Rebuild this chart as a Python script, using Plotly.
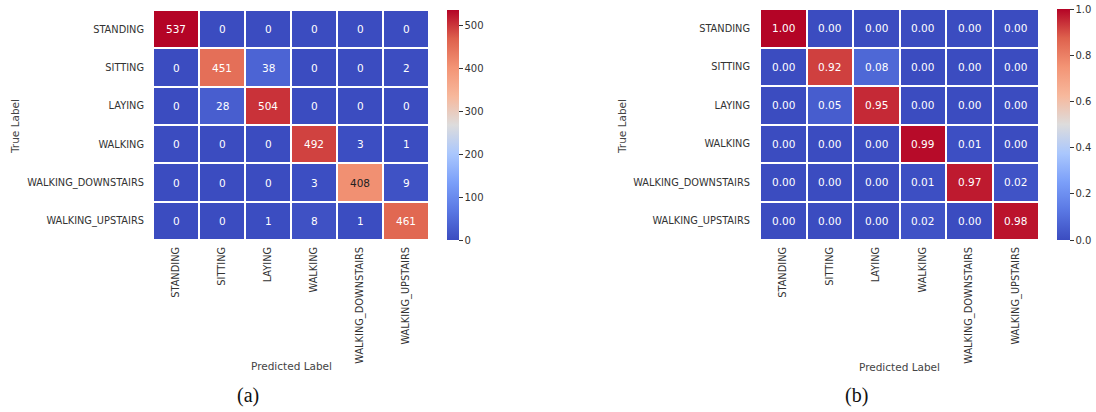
import plotly.graph_objects as go

labels = ["STANDING", "SITTING", "LAYING", "WALKING", "WALKING_DOWNSTAIRS", "WALKING_UPSTAIRS"]

counts = [
    [537, 0, 0, 0, 0, 0],
    [0, 451, 38, 0, 0, 2],
    [0, 28, 504, 0, 0, 0],
    [0, 0, 0, 492, 3, 1],
    [0, 0, 0, 3, 408, 9],
    [0, 0, 1, 8, 1, 461],
]

normalized = [
    [1.00, 0.00, 0.00, 0.00, 0.00, 0.00],
    [0.00, 0.92, 0.08, 0.00, 0.00, 0.00],
    [0.00, 0.05, 0.95, 0.00, 0.00, 0.00],
    [0.00, 0.00, 0.00, 0.99, 0.01, 0.00],
    [0.00, 0.00, 0.00, 0.01, 0.97, 0.02],
    [0.00, 0.00, 0.00, 0.02, 0.00, 0.98],
]

count_ticks = [0, 100, 200, 300, 400, 500]
norm_ticks = [0.0, 0.2, 0.4, 0.6, 0.8, 1.0]

coolwarm = [
    [0.0, "#3b4cc0"],
    [0.125, "#5977e3"],
    [0.25, "#7b9ff9"],
    [0.375, "#aac7fd"],
    [0.5, "#dddcdc"],
    [0.625, "#f7b89c"],
    [0.75, "#f39475"],
    [0.875, "#de614d"],
    [1.0, "#b40426"],
]

W, H = 1096, 412


def px_x(p):
    return p / W


def px_y(p):
    return 1 - p / H


def text_colors(z, zmax):
    out = []
    for row in z:
        r = []
        for v in row:
            f = v / zmax
            r.append("#222222" if 0.6 < f < 0.8 else "white")
        out.append(r)
    return out


cb_font = dict(family="DejaVu Sans", size=10, color="#333333")

fig = go.Figure()

# left heatmap
fig.add_trace(go.Heatmap(
    z=counts, x=labels, y=labels, colorscale=coolwarm, zmin=0, zmax=537,
    xgap=2, ygap=2, xaxis="x", yaxis="y", showscale=True,
    colorbar=dict(x=px_x(447), xanchor="left", xpad=0, ypad=0, thickness=12,
                  len=230 / H, y=px_y(125), yanchor="middle", outlinewidth=0,
                  tickvals=count_ticks, ticks="outside", ticklen=4, tickcolor="#333333",
                  tickfont=cb_font),
    hoverinfo="z",
))
# right heatmap
fig.add_trace(go.Heatmap(
    z=normalized, x=labels, y=labels, colorscale=coolwarm, zmin=0, zmax=1,
    xgap=2, ygap=2, xaxis="x2", yaxis="y2", showscale=True,
    colorbar=dict(x=px_x(1057), xanchor="left", xpad=0, ypad=0, thickness=13,
                  len=231 / H, y=px_y(124.5), yanchor="middle", outlinewidth=0,
                  tickvals=norm_ticks, tickformat=".1f", ticks="outside", ticklen=4,
                  tickcolor="#333333", tickfont=cb_font),
    hoverinfo="z",
))

annotations = []
for z, fmt, xa, ya, zmax in [(counts, "{:d}", "x", "y", 537), (normalized, "{:.2f}", "x2", "y2", 1)]:
    cols = text_colors(z, zmax)
    for i, row in enumerate(z):
        for j, v in enumerate(row):
            annotations.append(dict(
                x=labels[j], y=labels[i], xref=xa, yref=ya, text=fmt.format(v),
                showarrow=False, font=dict(family="DejaVu Sans", size=10.5, color=cols[i][j])))

tick_font = dict(family="DejaVu Sans", size=9.8, color="#333333")
axis_common = dict(showgrid=False, zeroline=False, showline=False, ticks="")

fig.update_layout(
    width=W, height=H, margin=dict(l=0, r=0, t=0, b=0),
    paper_bgcolor="white", plot_bgcolor="white",
    xaxis=dict(domain=[px_x(153), px_x(429)], anchor="y", tickangle=-90, tickfont=tick_font,
               ticklabelstandoff=4, **axis_common),
    yaxis=dict(domain=[px_y(240), px_y(10)], anchor="x", autorange="reversed", tickfont=tick_font,
               ticklabelstandoff=8, **axis_common),
    xaxis2=dict(domain=[px_x(760), px_x(1039)], anchor="y2", tickangle=-90, tickfont=tick_font,
                ticklabelstandoff=4, **axis_common),
    yaxis2=dict(domain=[px_y(240), px_y(9)], anchor="x2", autorange="reversed", tickfont=tick_font,
                ticklabelstandoff=9, **axis_common),
    showlegend=False,
)

title_font = dict(family="DejaVu Sans", size=10.5, color="#444444")
annotations += [
    dict(text="Predicted Label", x=px_x(291), y=px_y(366), xref="paper", yref="paper",
         showarrow=False, font=title_font, xanchor="center", yanchor="middle"),
    dict(text="Predicted Label", x=px_x(899), y=px_y(367), xref="paper", yref="paper",
         showarrow=False, font=title_font, xanchor="center", yanchor="middle"),
    dict(text="True Label", x=px_x(15), y=px_y(127), xref="paper", yref="paper", textangle=-90,
         showarrow=False, font=title_font, xanchor="center", yanchor="middle"),
    dict(text="True Label", x=px_x(622), y=px_y(127), xref="paper", yref="paper", textangle=-90,
         showarrow=False, font=title_font, xanchor="center", yanchor="middle"),
    dict(text="(a)", x=px_x(248), y=px_y(395), xref="paper", yref="paper",
         showarrow=False, font=dict(family="Liberation Serif", size=20, color="#111111"),
         xanchor="center", yanchor="middle"),
    dict(text="(b)", x=px_x(856), y=px_y(395), xref="paper", yref="paper",
         showarrow=False, font=dict(family="Liberation Serif", size=20, color="#111111"),
         xanchor="center", yanchor="middle"),
]
fig.update_layout(annotations=annotations)

fig.write_html("out.html")
